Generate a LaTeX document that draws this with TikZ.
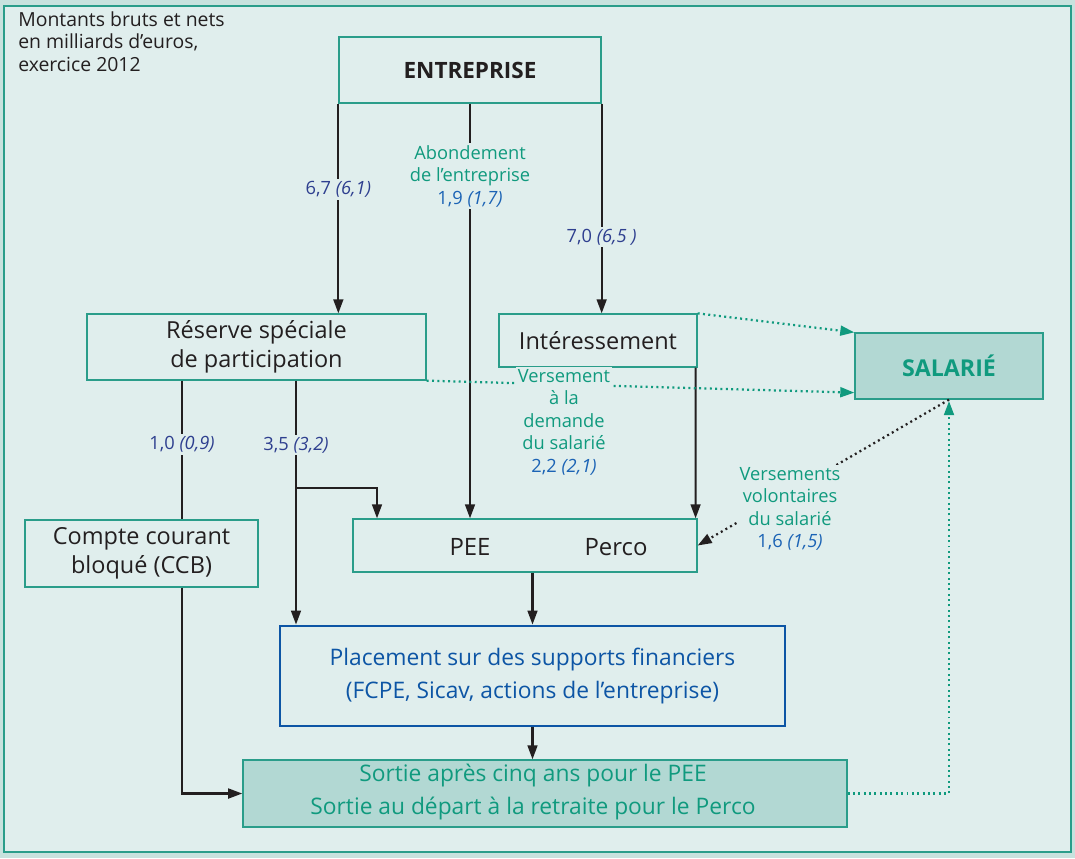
\documentclass[tikz,border=0pt]{standalone}
\usepackage{fontspec}
\setmainfont{Open Sans}
\usetikzlibrary{arrows.meta}

\definecolor{bgin}{HTML}{E0EEED}
\definecolor{bgout}{HTML}{C8E2DE}
\definecolor{teal1}{HTML}{2A9D8A}
\definecolor{tealtx}{HTML}{109A7E}
\definecolor{darktx}{HTML}{231F20}
\definecolor{navy}{HTML}{2E3F8F}
\definecolor{blue1}{HTML}{1B63B5}
\definecolor{blue2}{HTML}{0D55A5}
\definecolor{fillbox}{HTML}{B2D8D3}

\begin{document}
\begin{tikzpicture}[x=0.025cm, y=-0.025cm,
    box/.style={draw=teal1, line width=0.9pt, inner sep=0pt, align=center,
        text=darktx, font=\fontsize{16.7}{20.5}\selectfont},
    numlbl/.style={fill=bgin, inner sep=1.5pt, align=center,
        font=\fontsize{13}{16}\selectfont},
    flow/.style={line width=1.5pt, draw=darktx, -{Triangle[length=10pt,width=7pt]}},
    plain/.style={line width=1.5pt, draw=darktx},
    dotflow/.style={line width=1.6pt, draw=tealtx, dash pattern=on 1.4pt off 2.4pt,
        -{Triangle[length=10pt,width=7pt,fill=tealtx]}},
    blackdot/.style={line width=1.6pt, draw=darktx, dash pattern=on 1.4pt off 2.4pt,
        -{Triangle[length=10pt,width=7pt,fill=darktx]}}]

    % Background and frame
    \fill[bgout] (0,0) rectangle (1075,858);
    \fill[bgin] (4,6) rectangle (1071,852);
    \draw[teal1, line width=1.2pt] (4,6) rectangle (1071,852);
    \node[anchor=north west, align=left, inner sep=0pt, text=darktx,
        font=\fontsize{13.8}{16.2}\selectfont] (note) at (18,11)
        {Montants bruts et nets\\en milliards d’euros,\\exercice 2012};

    % Boxes
    \node[box, minimum width=6.55cm, minimum height=1.65cm,
        font=\fontsize{16}{18}\selectfont\bfseries] (entreprise) at (470,70) {ENTREPRISE};
    \node[box, minimum width=8.475cm, minimum height=1.65cm] (reserve) at (256.5,347)
        {Réserve spéciale\\de participation};
    \node[box, minimum width=4.95cm, minimum height=1.325cm] (interessement) at (598,340.5)
        {Intéressement};
    \node[box, fill=fillbox, minimum width=4.7cm, minimum height=1.65cm, text=tealtx,
        font=\fontsize{16.5}{18}\selectfont\bfseries] (salarie) at (949,366) {SALARIÉ};
    \node[box, minimum width=5.825cm, minimum height=1.675cm] (compte) at (141.5,553.5)
        {Compte courant\\bloqué (CCB)};
    \node[box, minimum width=8.6cm, minimum height=1.325cm] (pee) at (525,545.5) {};
    \node[text=darktx, font=\fontsize{17}{20}\selectfont] (peetxt) at (470,547) {PEE};
    \node[text=darktx, font=\fontsize{17}{20}\selectfont] (percotxt) at (616,547) {Perco};
    \node[box, draw=blue2, line width=2pt, minimum width=12.625cm, minimum height=2.5cm,
        text=blue2, font=\fontsize{16.2}{23}\selectfont] (placement) at (532.5,676)
        {Placement sur des supports financiers\\(FCPE, Sicav, actions de l’entreprise)};
    \node[box, fill=fillbox, minimum width=15.1cm, minimum height=1.675cm] (sortie) at (545,793.5) {};
    \node[align=center, text=tealtx, font=\fontsize{16.2}{23}\selectfont] (sortietxt) at (533,792)
        {Sortie après cinq ans pour le PEE\\Sortie au départ à la retraite pour le Perco};

    \coordinate (split1) at (182,0);
    \coordinate (split2) at (296,0);
    \coordinate (fork) at (296,488);
    \coordinate (peein) at (377,0);

    % Flows from the company
    \draw[flow] (entreprise.south west) -- node[numlbl, pos=0.41, text=navy]
        {6,7 \textit{(6,1)}} (entreprise.south west |- reserve.north);
    \draw[flow] (entreprise.south) -- node[numlbl, pos=0.175, text=tealtx]
        {Abondement\\de l’entreprise\\\textcolor{blue1}{1,9 \textit{(1,7)}}} (entreprise.south |- pee.north);
    \draw[flow] (entreprise.south east) -- node[numlbl, pos=0.635, text=navy]
        {7,0 \textit{(6,5 )}} (entreprise.south east |- interessement.north);

    % Flows from the reserve
    \draw[plain] (reserve.south -| split1) -- node[numlbl, pos=0.46, text=navy]
        {1,0 \textit{(0,9)}} (compte.north -| split1);
    \draw[flow] (reserve.south -| split2) -- node[numlbl, pos=0.264, text=navy]
        {3,5 \textit{(3,2)}} (placement.north -| split2);
    \draw[flow] (fork) -| (pee.north -| peein);
    \draw[flow] ([xshift=-1.5pt]interessement.south east) -- ([xshift=-1.5pt]pee.north east);
    \draw[flow] (compte.south -| split1) |- (sortie.west);
    \draw[flow] (pee.south -| placement.north) -- (placement.north);
    \draw[flow] (placement.south) -- (sortie.north -| placement.south);

    % Flows to the employee
    \draw[dotflow] (interessement.north east) -- (salarie.north west);
    \draw[dotflow] (reserve.south east) -- ([yshift=5pt]salarie.south west);
    \node[numlbl, text=tealtx] (demande) at (564,422)
        {Versement\\à la\\demande\\du salarié\\\textcolor{blue1}{2,2 \textit{(2,1)}}};
    \draw[blackdot] (salarie.south) -- (pee.east);
    \node[numlbl, text=tealtx] (volontaires) at (790,509)
        {Versements\\volontaires\\du salarié\\\textcolor{blue1}{1,6 \textit{(1,5)}}};
    \draw[dotflow] (sortie.east) -| ([yshift=-1pt]salarie.south);
\end{tikzpicture}
\end{document}
